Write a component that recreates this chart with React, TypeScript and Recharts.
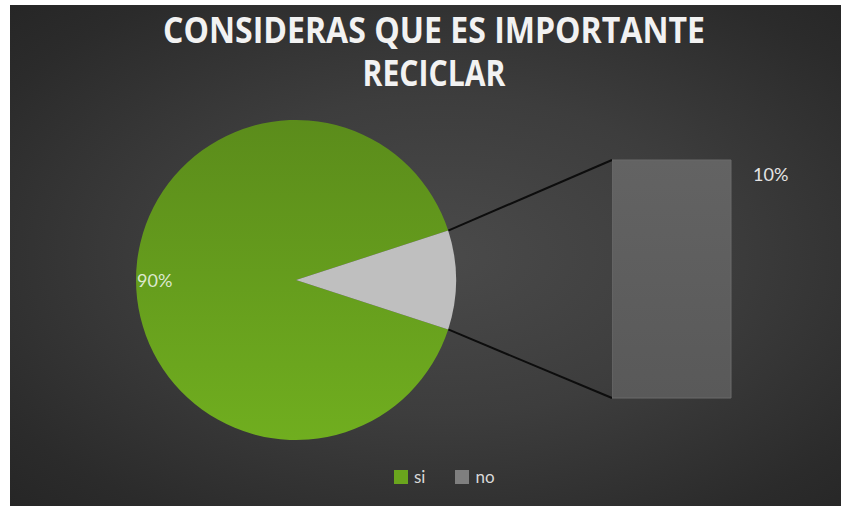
import React from 'react';
import { PieChart, Pie, Cell, Legend, BarChart, Bar, XAxis, YAxis, LabelList } from 'recharts';

const categories = ['si', 'no'];
const values = [90, 10];
const colors = ['#6aa51d', '#bfbfbf'];
const legendColors = ['#6aa51d', '#7f7f7f'];
const titleLines = ['CONSIDERAS QUE ES IMPORTANTE', 'RECICLAR'];

const pieData = categories.map((name, i) => ({ name, value: values[i] }));
const total = values.reduce((a, b) => a + b, 0);
// the "no" slice is pulled out into the stacked bar on the right
const barData = [{ name: categories[1], value: values[1] }];

const W = 844;
const H = 506;
const PIE_CX = 296;
const PIE_CY = 280;
const PIE_R = 160;
const BAR = { left: 612, top: 160, width: 119, height: 238 };

const halfAngle = (values[1] / total) * 180;
const pct = (v: number) => `${Math.round((v / total) * 100)}%`;

const renderPieLabel = (props: any) => {
  if (props.index !== 0) return null;
  const { cx, cy, outerRadius, midAngle, value } = props;
  const rad = (-midAngle * Math.PI) / 180;
  const x = cx + outerRadius * Math.cos(rad);
  const y = cy + outerRadius * Math.sin(rad);
  return (
    <text x={x + 1} y={y} dy={7} textAnchor="start" fill="#dce8cf" fontSize={18} fontFamily="Lato, sans-serif">
      {pct(value)}
    </text>
  );
};

const renderBarLabel = (props: any) => {
  const { x, y, width, value } = props;
  return (
    <text x={x + width + 22} y={y + 21} fill="#e4e4e4" fontSize={18} fontFamily="Lato, sans-serif">
      {pct(value)}
    </text>
  );
};

const renderLegend = () => (
  <div style={{ display: 'flex', alignItems: 'center', fontFamily: 'Lato, sans-serif', fontSize: 17, color: '#d9d9d9' }}>
    {categories.map((name, i) => (
      <div key={name} style={{ display: 'flex', alignItems: 'center', marginRight: 30 }}>
        <span style={{ display: 'inline-block', width: 14, height: 14, background: legendColors[i], marginRight: 6 }} />
        <span>{name}</span>
      </div>
    ))}
  </div>
);

const App = () => {
  const rad = (halfAngle * Math.PI) / 180;
  const px = PIE_CX + PIE_R * Math.cos(rad);
  const pyTop = PIE_CY - PIE_R * Math.sin(rad);
  const pyBot = PIE_CY + PIE_R * Math.sin(rad);

  return (
    <div style={{ position: 'absolute', left: 0, top: 0, width: W, height: H, background: '#ffffff', overflow: 'hidden' }}>
      <div
        style={{
          position: 'absolute',
          left: 10,
          top: 5,
          width: 831,
          height: 501,
          background: 'radial-gradient(ellipse at 52% 50%, #4a4a4a 0%, #3d3d3d 45%, #2b2b2b 85%, #262626 100%)',
        }}
      />
      <svg width={W} height={H} style={{ position: 'absolute', left: 0, top: 0 }}>
        <text x={434} y={43} textAnchor="middle" fill="#f2f2f2" fontSize={35} fontWeight={700} fontFamily="'Open Sans', sans-serif" textLength={542} lengthAdjust="spacingAndGlyphs">
          {titleLines[0]}
        </text>
        <text x={434} y={86} textAnchor="middle" fill="#f2f2f2" fontSize={35} fontWeight={700} fontFamily="'Open Sans', sans-serif" textLength={143} lengthAdjust="spacingAndGlyphs">
          {titleLines[1]}
        </text>
        <line x1={px} y1={pyTop} x2={BAR.left} y2={BAR.top} stroke="#0d0d0d" strokeWidth={2} />
        <line x1={px} y1={pyBot} x2={BAR.left} y2={BAR.top + BAR.height} stroke="#0d0d0d" strokeWidth={2} />
      </svg>
      <div style={{ position: 'absolute', left: 0, top: 0 }}>
        <PieChart width={W} height={H} margin={{ top: 0, right: 0, bottom: 0, left: 0 }}>
          <defs>
            <linearGradient id="pieGreen" x1="0" y1="0" x2="0" y2="1">
              <stop offset="0%" stopColor="#5b8c1b" />
              <stop offset="100%" stopColor="#70ae1f" />
            </linearGradient>
          </defs>
          <Pie
            data={pieData}
            dataKey="value"
            nameKey="name"
            cx={PIE_CX}
            cy={PIE_CY}
            outerRadius={PIE_R}
            startAngle={halfAngle}
            endAngle={halfAngle + 360}
            stroke="none"
            label={renderPieLabel}
            labelLine={false}
            isAnimationActive={false}
          >
            {pieData.map((d, i) => (
              <Cell key={d.name} fill={i === 0 ? 'url(#pieGreen)' : colors[i]} />
            ))}
          </Pie>
          <Legend content={renderLegend} wrapperStyle={{ left: 394, top: 466, width: 'auto', bottom: 'auto' }} />
        </PieChart>
      </div>
      <div style={{ position: 'absolute', left: BAR.left, top: BAR.top - 10 }}>
        <BarChart width={BAR.width + 81} height={BAR.height + 20} data={barData} margin={{ top: 10, right: 81, bottom: 10, left: 0 }} barCategoryGap={0}>
          <defs>
            <linearGradient id="barGrad" x1="0" y1="0" x2="0" y2="1">
              <stop offset="0%" stopColor="#636363" />
              <stop offset="100%" stopColor="#595959" />
            </linearGradient>
          </defs>
          <XAxis dataKey="name" hide />
          <YAxis hide domain={[0, values[1]]} />
          <Bar dataKey="value" fill="url(#barGrad)" stroke="#6a6a6a" strokeWidth={1} isAnimationActive={false}>
            <LabelList dataKey="value" content={renderBarLabel} />
          </Bar>
        </BarChart>
      </div>
    </div>
  );
};

export default App;
